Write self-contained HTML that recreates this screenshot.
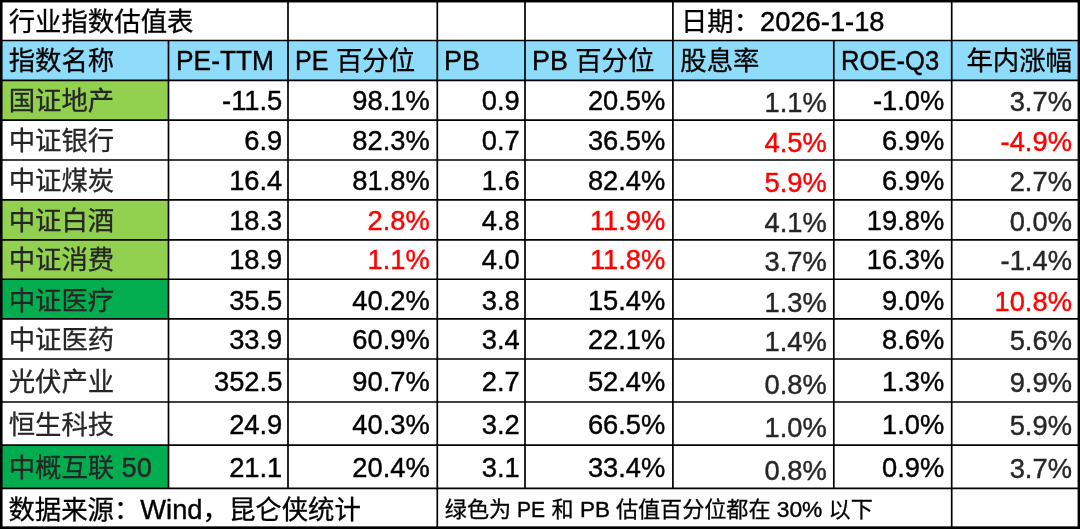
<!DOCTYPE html>
<html lang="zh-CN"><head><meta charset="utf-8"><title>行业指数估值表</title>
<style>
html,body{margin:0;padding:0;background:#fff;}
body{width:1080px;height:529px;overflow:hidden;position:relative;font-family:"Liberation Sans","Noto Sans CJK SC",sans-serif;font-size:26.4px;color:#000;}
#sheet{position:absolute;left:0;top:0;width:1080px;height:529px;overflow:hidden;background:#fff;}
.f{position:absolute;}
.t{position:absolute;white-space:nowrap;overflow:visible;height:40px;line-height:40px;}
.r{text-align:right;}
.l{font-size:1.0341em;line-height:0;-webkit-text-stroke:0.4px currentColor;}
.x{display:inline-block;transform-origin:0 50%;}
.t{-webkit-text-stroke:0.3px currentColor;}
.red{color:#ff0000;}
.g{color:#262626;}
.n{color:#262626;}
svg{position:absolute;left:0;top:0;}
</style></head><body><div id="sheet">
<div class="f" style="left:0.00px;top:40.50px;width:1080.00px;height:39.90px;background:#8edcf9"></div>
<div class="f" style="left:0.00px;top:80.40px;width:168.50px;height:39.70px;background:#92d050"></div>
<div class="f" style="left:0.00px;top:199.95px;width:168.50px;height:39.90px;background:#92d050"></div>
<div class="f" style="left:0.00px;top:239.85px;width:168.50px;height:39.40px;background:#92d050"></div>
<div class="f" style="left:0.00px;top:279.25px;width:168.50px;height:39.60px;background:#02ad50"></div>
<div class="f" style="left:0.00px;top:445.10px;width:168.50px;height:43.30px;background:#02ad50"></div>
<svg width="1080" height="529" viewBox="0 0 1080 529">
<g stroke="#000" stroke-width="1.70" fill="none">
<line x1="0" y1="40.50" x2="1080" y2="40.50"/>
<line x1="0" y1="80.40" x2="1080" y2="80.40"/>
<line x1="0" y1="120.10" x2="1080" y2="120.10"/>
<line x1="0" y1="160.00" x2="1080" y2="160.00"/>
<line x1="0" y1="199.95" x2="1080" y2="199.95"/>
<line x1="0" y1="239.85" x2="1080" y2="239.85"/>
<line x1="0" y1="279.25" x2="1080" y2="279.25"/>
<line x1="0" y1="318.85" x2="1080" y2="318.85"/>
<line x1="0" y1="359.00" x2="1080" y2="359.00"/>
<line x1="0" y1="402.00" x2="1080" y2="402.00"/>
<line x1="0" y1="445.10" x2="1080" y2="445.10"/>
<line x1="0" y1="488.40" x2="1080" y2="488.40"/>
<line x1="288.00" y1="0.00" x2="288.00" y2="40.50"/>
<line x1="437.30" y1="0.00" x2="437.30" y2="40.50"/>
<line x1="525.00" y1="0.00" x2="525.00" y2="40.50"/>
<line x1="672.90" y1="0.00" x2="672.90" y2="40.50"/>
<line x1="951.70" y1="0.00" x2="951.70" y2="40.50"/>
<line x1="168.50" y1="40.50" x2="168.50" y2="488.40"/>
<line x1="288.00" y1="40.50" x2="288.00" y2="488.40"/>
<line x1="437.30" y1="40.50" x2="437.30" y2="488.40"/>
<line x1="525.00" y1="40.50" x2="525.00" y2="488.40"/>
<line x1="672.90" y1="40.50" x2="672.90" y2="488.40"/>
<line x1="833.80" y1="40.50" x2="833.80" y2="488.40"/>
<line x1="951.70" y1="40.50" x2="951.70" y2="488.40"/>
<line x1="437.30" y1="488.40" x2="437.30" y2="529.00"/>
<line x1="951.70" y1="488.40" x2="951.70" y2="529.00"/>
</g>
<g fill="#000">
<rect x="0" y="0" width="1080" height="2.45"/>
<rect x="0" y="526.35" width="1080" height="2.65"/>
<rect x="0" y="0" width="2.55" height="529"/>
<rect x="1077.6" y="0" width="2.4" height="529"/>
</g>
</svg>
<div class="t " style="left:8.70px;top:2px;">行业指数估值表</div>
<div class="t " style="left:680.90px;top:2px;">日期：<span class="l">2026-1-18</span></div>
<div class="t " style="left:8.70px;top:41px;">指数名称</div>
<div class="t " style="left:175.50px;top:41px;"><span class="l x" style="transform:scaleX(0.9650);margin-right:-0.130em">PE-TTM</span></div>
<div class="t " style="left:295.00px;top:41px;"><span class="l x" style="transform:scaleX(0.9230);margin-right:-0.103em">PE</span> 百分位</div>
<div class="t " style="left:444.30px;top:41px;"><span class="l x" style="transform:scaleX(0.9850);margin-right:-0.020em">PB</span></div>
<div class="t " style="left:532.00px;top:41px;"><span class="l x" style="transform:scaleX(0.9850);margin-right:-0.020em">PB</span> 百分位</div>
<div class="t " style="left:680.30px;top:41px;">股息率</div>
<div class="t " style="left:840.80px;top:41px;"><span class="l x" style="transform:scaleX(0.9375);margin-right:-0.240em">ROE-Q3</span></div>
<div class="t r " style="right:8.00px;top:41px;">年内涨幅</div>
<div class="t n" style="left:8.70px;top:81px;">国证地产</div>
<div class="t r " style="right:797.70px;top:81px;"><span class="l">-11.5</span></div>
<div class="t r " style="right:650.30px;top:81px;"><span class="l">98.1%</span></div>
<div class="t r " style="right:560.30px;top:81px;"><span class="l">0.9</span></div>
<div class="t r " style="right:414.70px;top:81px;"><span class="l">20.5%</span></div>
<div class="t r g" style="right:253.30px;top:83px;"><span class="l">1.1%</span></div>
<div class="t r " style="right:135.80px;top:81px;"><span class="l">-1.0%</span></div>
<div class="t r g" style="right:8.10px;top:82px;"><span class="l">3.7%</span></div>
<div class="t n" style="left:8.70px;top:121px;">中证银行</div>
<div class="t r " style="right:797.70px;top:121px;"><span class="l">6.9</span></div>
<div class="t r " style="right:650.30px;top:121px;"><span class="l">82.3%</span></div>
<div class="t r " style="right:560.30px;top:121px;"><span class="l">0.7</span></div>
<div class="t r " style="right:414.70px;top:121px;"><span class="l">36.5%</span></div>
<div class="t r red" style="right:253.30px;top:123px;"><span class="l">4.5%</span></div>
<div class="t r " style="right:135.80px;top:121px;"><span class="l">6.9%</span></div>
<div class="t r red" style="right:8.10px;top:122px;"><span class="l">-4.9%</span></div>
<div class="t n" style="left:8.70px;top:161px;">中证煤炭</div>
<div class="t r " style="right:797.70px;top:161px;"><span class="l">16.4</span></div>
<div class="t r " style="right:650.30px;top:161px;"><span class="l">81.8%</span></div>
<div class="t r " style="right:560.30px;top:161px;"><span class="l">1.6</span></div>
<div class="t r " style="right:414.70px;top:161px;"><span class="l">82.4%</span></div>
<div class="t r red" style="right:253.30px;top:163px;"><span class="l">5.9%</span></div>
<div class="t r " style="right:135.80px;top:161px;"><span class="l">6.9%</span></div>
<div class="t r g" style="right:8.10px;top:162px;"><span class="l">2.7%</span></div>
<div class="t n" style="left:8.70px;top:201px;">中证白酒</div>
<div class="t r " style="right:797.70px;top:201px;"><span class="l">18.3</span></div>
<div class="t r red" style="right:650.30px;top:201px;"><span class="l">2.8%</span></div>
<div class="t r " style="right:560.30px;top:201px;"><span class="l">4.8</span></div>
<div class="t r red" style="right:414.70px;top:201px;"><span class="l">11.9%</span></div>
<div class="t r g" style="right:253.30px;top:203px;"><span class="l">4.1%</span></div>
<div class="t r " style="right:135.80px;top:201px;"><span class="l">19.8%</span></div>
<div class="t r g" style="right:8.10px;top:202px;"><span class="l">0.0%</span></div>
<div class="t n" style="left:8.70px;top:240px;">中证消费</div>
<div class="t r " style="right:797.70px;top:240px;"><span class="l">18.9</span></div>
<div class="t r red" style="right:650.30px;top:240px;"><span class="l">1.1%</span></div>
<div class="t r " style="right:560.30px;top:240px;"><span class="l">4.0</span></div>
<div class="t r red" style="right:414.70px;top:240px;"><span class="l">11.8%</span></div>
<div class="t r g" style="right:253.30px;top:242px;"><span class="l">3.7%</span></div>
<div class="t r " style="right:135.80px;top:240px;"><span class="l">16.3%</span></div>
<div class="t r g" style="right:8.10px;top:241px;"><span class="l">-1.4%</span></div>
<div class="t n" style="left:8.70px;top:281px;">中证医疗</div>
<div class="t r " style="right:797.70px;top:281px;"><span class="l">35.5</span></div>
<div class="t r " style="right:650.30px;top:281px;"><span class="l">40.2%</span></div>
<div class="t r " style="right:560.30px;top:281px;"><span class="l">3.8</span></div>
<div class="t r " style="right:414.70px;top:281px;"><span class="l">15.4%</span></div>
<div class="t r g" style="right:253.30px;top:283px;"><span class="l">1.3%</span></div>
<div class="t r " style="right:135.80px;top:281px;"><span class="l">9.0%</span></div>
<div class="t r red" style="right:8.10px;top:282px;"><span class="l">10.8%</span></div>
<div class="t n" style="left:8.70px;top:320px;">中证医药</div>
<div class="t r " style="right:797.70px;top:320px;"><span class="l">33.9</span></div>
<div class="t r " style="right:650.30px;top:320px;"><span class="l">60.9%</span></div>
<div class="t r " style="right:560.30px;top:320px;"><span class="l">3.4</span></div>
<div class="t r " style="right:414.70px;top:320px;"><span class="l">22.1%</span></div>
<div class="t r g" style="right:253.30px;top:322px;"><span class="l">1.4%</span></div>
<div class="t r " style="right:135.80px;top:320px;"><span class="l">8.6%</span></div>
<div class="t r g" style="right:8.10px;top:321px;"><span class="l">5.6%</span></div>
<div class="t n" style="left:8.70px;top:362px;">光伏产业</div>
<div class="t r " style="right:797.70px;top:362px;"><span class="l">352.5</span></div>
<div class="t r " style="right:650.30px;top:362px;"><span class="l">90.7%</span></div>
<div class="t r " style="right:560.30px;top:362px;"><span class="l">2.7</span></div>
<div class="t r " style="right:414.70px;top:362px;"><span class="l">52.4%</span></div>
<div class="t r g" style="right:253.30px;top:365px;"><span class="l">0.8%</span></div>
<div class="t r " style="right:135.80px;top:362px;"><span class="l">1.3%</span></div>
<div class="t r g" style="right:8.10px;top:363px;"><span class="l">9.9%</span></div>
<div class="t n" style="left:8.70px;top:405px;">恒生科技</div>
<div class="t r " style="right:797.70px;top:405px;"><span class="l">24.9</span></div>
<div class="t r " style="right:650.30px;top:405px;"><span class="l">40.3%</span></div>
<div class="t r " style="right:560.30px;top:405px;"><span class="l">3.2</span></div>
<div class="t r " style="right:414.70px;top:405px;"><span class="l">66.5%</span></div>
<div class="t r g" style="right:253.30px;top:408px;"><span class="l">1.0%</span></div>
<div class="t r " style="right:135.80px;top:405px;"><span class="l">1.0%</span></div>
<div class="t r g" style="right:8.10px;top:406px;"><span class="l">5.9%</span></div>
<div class="t n" style="left:8.70px;top:448px;">中概互联 <span class="l">50</span></div>
<div class="t r " style="right:797.70px;top:448px;"><span class="l">21.1</span></div>
<div class="t r " style="right:650.30px;top:448px;"><span class="l">20.4%</span></div>
<div class="t r " style="right:560.30px;top:448px;"><span class="l">3.1</span></div>
<div class="t r " style="right:414.70px;top:448px;"><span class="l">33.4%</span></div>
<div class="t r g" style="right:253.30px;top:451px;"><span class="l">0.8%</span></div>
<div class="t r " style="right:135.80px;top:448px;"><span class="l">0.9%</span></div>
<div class="t r g" style="right:8.10px;top:449px;"><span class="l">3.7%</span></div>
<div class="t " style="left:8.40px;top:490px;">数据来源：<span class="l">Wind</span>，昆仑侠统计</div>
<div class="t " style="left:444.80px;top:490px;font-size:22.1px;">绿色为 <span class="l x" style="transform:scaleX(0.9230);margin-right:-0.103em">PE</span> 和 <span class="l x" style="transform:scaleX(0.9850);margin-right:-0.020em">PB</span> 估值百分位都在 <span class="l">30%</span> 以下</div>
</div></body></html>
